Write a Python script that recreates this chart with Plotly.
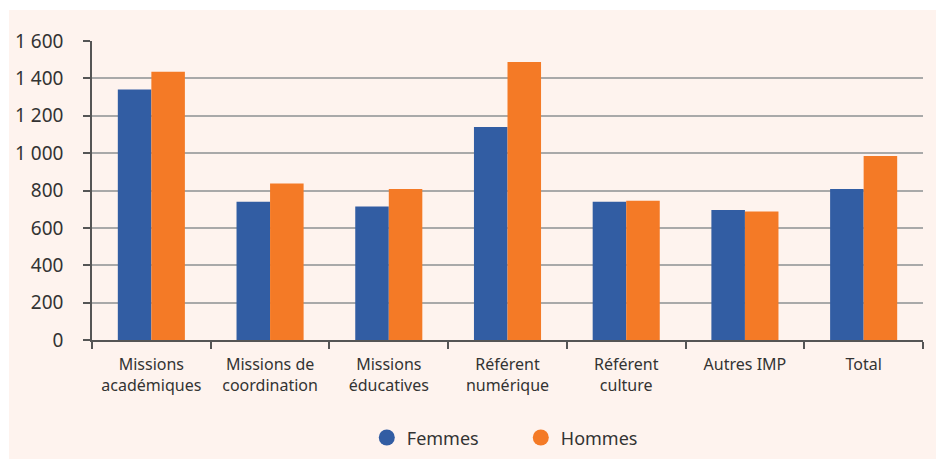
import plotly.graph_objects as go

categories = ["Missions<br>académiques", "Missions de<br>coordination", "Missions<br>éducatives",
              "Référent<br>numérique", "Référent<br>culture", "Autres IMP", "Total"]
femmes = [1340, 740, 715, 1140, 740, 695, 808]
hommes = [1435, 838, 808, 1487, 745, 688, 985]
y_ticks = [0, 200, 400, 600, 800, 1000, 1200, 1400, 1600]

BLUE = "#325da3"
ORANGE = "#f47a26"
BG = "#fef3ee"
TXT = "#333333"
FONT = "Noto Sans"

fig = go.Figure()
fig.add_trace(go.Bar(x=categories, y=femmes, name="Femmes", marker=dict(color=BLUE, line=dict(width=0)),
                     showlegend=False))
fig.add_trace(go.Bar(x=categories, y=hommes, name="Hommes", marker=dict(color=ORANGE, line=dict(width=0)),
                     showlegend=False))
# legend entries with round symbols
fig.add_trace(go.Scatter(x=[None], y=[None], mode="markers", name="Femmes",
                         marker=dict(color=BLUE, size=16, symbol="circle")))
fig.add_trace(go.Scatter(x=[None], y=[None], mode="markers", name="Hommes",
                         marker=dict(color=ORANGE, size=16, symbol="circle")))

# page body margin is removed (post_script), figure covers the whole window
W, H = 936, 459
ml, mr, mt, mb = 92, 13, 41, 119
pw, ph = W - ml - mr, H - mt - mb

# beige panel, white strip along top and left edges
fig.add_shape(type="rect", xref="paper", yref="paper", layer="below",
              x0=(9 - ml) / pw, x1=(W - ml) / pw + 0.01,
              y0=-mb / ph - 0.01, y1=1 + (mt - 10) / ph,
              fillcolor=BG, line=dict(width=0))

fig.update_layout(
    width=W, height=H,
    margin=dict(l=ml, r=mr, t=mt, b=mb, pad=0, autoexpand=False),
    paper_bgcolor="white",
    plot_bgcolor="rgba(0,0,0,0)",
    barmode="group",
    bargap=0.435,
    bargroupgap=0,
    separators=", ",
    font=dict(family=FONT, color=TXT, size=16),
    legend=dict(orientation="h", x=0.516, xanchor="center", y=-0.327, yanchor="middle",
                font=dict(size=18, color=TXT), bgcolor="rgba(0,0,0,0)",
                entrywidth=109, entrywidthmode="pixels"),
    showlegend=True,
)
fig.update_xaxes(
    showline=True, linecolor="#555555", linewidth=1.5,
    ticks="outside", tickson="boundaries", ticklen=7, tickcolor="#555555", tickwidth=1.5,
    tickfont=dict(size=16, color=TXT), showgrid=False,
    ticklabelstandoff=9, automargin=False,
)
fig.update_yaxes(
    range=[0, 1600], tickvals=y_ticks, separatethousands=True,
    showline=True, linecolor="#555555", linewidth=1.5,
    ticks="outside", ticklen=7, tickcolor="#555555", tickwidth=1.5,
    showgrid=True, gridcolor="#a9a9a9", gridwidth=1.5, zeroline=False,
    tickfont=dict(size=19, color=TXT), ticklabelstandoff=16, automargin=False,
)

fig.write_html("out.html", config={"displayModeBar": False},
               post_script="document.body.style.margin='0';document.body.style.overflow='hidden';")
